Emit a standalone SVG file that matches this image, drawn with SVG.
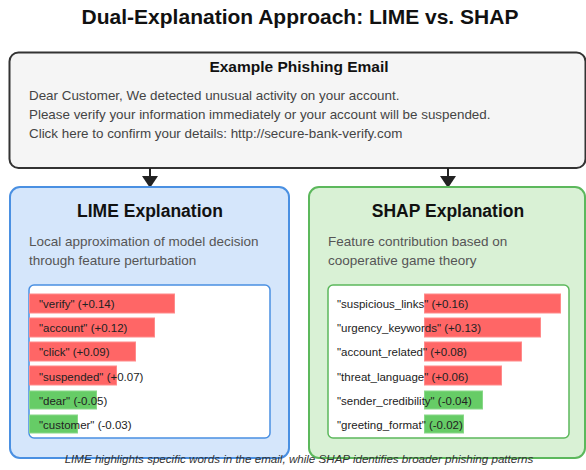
<svg xmlns="http://www.w3.org/2000/svg" width="586" height="470" viewBox="0 0 586 470">
<defs>
<style>
text{font-family:"Liberation Sans",Arial,sans-serif;}
.title{font-size:21px;font-weight:bold;fill:#111;text-anchor:middle;}
.h{font-size:15.5px;font-weight:bold;fill:#111;text-anchor:middle;}
.h2{font-size:17.5px;font-weight:bold;fill:#111;text-anchor:middle;}
.body{font-size:13.4px;fill:#444;}
.sub{font-size:13.5px;fill:#555;}
.lbl{font-size:11.5px;fill:#222;}
.foot{font-size:11.6px;font-style:italic;fill:#333;text-anchor:middle;}
.pos{fill:#ff6666;stroke:#ff8a8a;stroke-width:1;}
.neg{fill:#66cc66;stroke:#88d888;stroke-width:1;}
</style>
<marker id="arr" viewBox="0 0 12 16" refX="12" refY="8" markerWidth="12" markerHeight="16" markerUnits="userSpaceOnUse" orient="auto"><path d="M0,0 L16,8 L0,16 z" transform="scale(0.75,1)" fill="#222"/></marker>
</defs>
<rect width="586" height="470" fill="#ffffff"/>
<text class="title" x="300" y="24">Dual-Explanation Approach: LIME vs. SHAP</text>
<g id="email">
<rect x="9.5" y="52.5" width="576" height="115.5" rx="9" fill="#f5f5f5" stroke="#333" stroke-width="2"/>
<text class="h" x="299" y="72">Example Phishing Email</text>
<text class="body" x="29" y="100">Dear Customer, We detected unusual activity on your account.</text>
<text class="body" x="29" y="119">Please verify your information immediately or your account will be suspended.</text>
<text class="body" x="29" y="138">Click here to confirm your details: http://secure-bank-verify.com</text>
</g>
<g id="connectors">
<line x1="150" y1="168" x2="150" y2="188" stroke="#222" stroke-width="2" marker-end="url(#arr)"/>
<line x1="448" y1="168" x2="448" y2="188" stroke="#222" stroke-width="2" marker-end="url(#arr)"/>
</g>
<g id="lime">
<rect x="10" y="187" width="279" height="271" rx="10" fill="#d5e6fb" stroke="#4a90e2" stroke-width="2"/>
<text class="h2" x="150" y="217">LIME Explanation</text>
<text class="sub" x="29" y="246">Local approximation of model decision</text>
<text class="sub" x="29" y="265">through feature perturbation</text>
<rect x="29" y="285" width="241" height="153" rx="5" fill="#ffffff" stroke="#4a90e2" stroke-width="1.5"/>
<rect class="pos" x="29.5" y="294" width="145" height="19"/>
<rect class="pos" x="29.5" y="318" width="125" height="19"/>
<rect class="pos" x="29.5" y="342" width="106" height="19"/>
<rect class="pos" x="29.5" y="366" width="87" height="19"/>
<rect class="neg" x="29.5" y="391" width="67" height="18"/>
<rect class="neg" x="29.5" y="415" width="48" height="18"/>
<text class="lbl" x="39" y="308">"verify" (+0.14)</text>
<text class="lbl" x="39" y="332">"account" (+0.12)</text>
<text class="lbl" x="39" y="356">"click" (+0.09)</text>
<text class="lbl" x="39" y="381">"suspended" (+0.07)</text>
<text class="lbl" x="39" y="405">"dear" (-0.05)</text>
<text class="lbl" x="39" y="429">"customer" (-0.03)</text>
</g>
<g id="shap">
<rect x="309" y="187" width="276" height="271" rx="10" fill="#d9f1d5" stroke="#5cb85c" stroke-width="2"/>
<text class="h2" x="448" y="217">SHAP Explanation</text>
<text class="sub" x="328" y="246">Feature contribution based on</text>
<text class="sub" x="328" y="265">cooperative game theory</text>
<rect x="328" y="285" width="241" height="153" rx="5" fill="#ffffff" stroke="#5cb85c" stroke-width="1.5"/>
<rect class="pos" x="424.5" y="294" width="136" height="19"/>
<rect class="pos" x="424.5" y="318" width="116" height="19"/>
<rect class="pos" x="424.5" y="342" width="97" height="19"/>
<rect class="pos" x="424.5" y="366" width="77" height="19"/>
<rect class="neg" x="424.5" y="391" width="58" height="18"/>
<rect class="neg" x="424.5" y="415" width="39" height="18"/>
<text class="lbl" x="337" y="308">"suspicious_links" (+0.16)</text>
<text class="lbl" x="337" y="332">"urgency_keywords" (+0.13)</text>
<text class="lbl" x="337" y="356">"account_related" (+0.08)</text>
<text class="lbl" x="337" y="381">"threat_language" (+0.06)</text>
<text class="lbl" x="337" y="405">"sender_credibility" (-0.04)</text>
<text class="lbl" x="337" y="429">"greeting_format" (-0.02)</text>
</g>
<text class="foot" x="299" y="463">LIME highlights specific words in the email, while SHAP identifies broader phishing patterns</text>
</svg>
